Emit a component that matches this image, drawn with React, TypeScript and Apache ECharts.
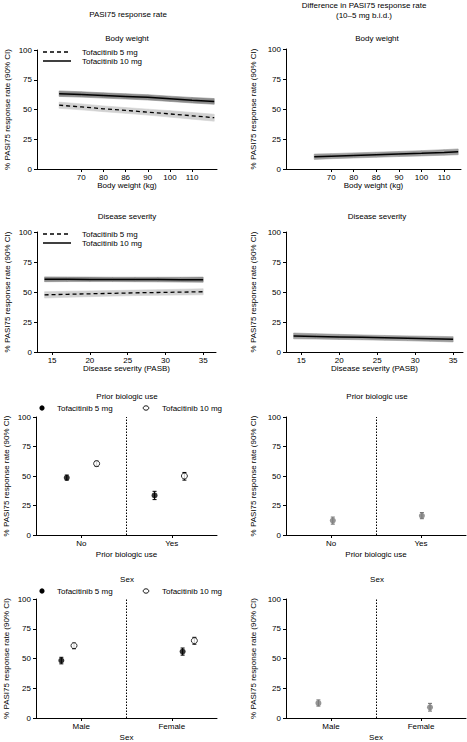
import React, { useEffect, useRef } from "react";
import * as echarts from "echarts";

// ---------- Data ----------
const bwX = [62, 70, 78, 86, 94, 102, 110, 118];
const bw10 = [63.3, 62.6, 61.8, 61.0, 60.2, 59.0, 57.8, 56.8];
const bw10Lo = [61.0, 60.4, 59.6, 58.8, 58.0, 56.8, 55.5, 54.4];
const bw10Hi = [65.6, 64.9, 64.0, 63.2, 62.4, 61.2, 60.1, 59.2];
const bw5 = [53.6, 52.2, 50.6, 49.2, 47.8, 46.3, 44.7, 43.1];
const bw5Lo = [51.0, 49.7, 48.2, 46.8, 45.3, 43.6, 41.9, 40.2];
const bw5Hi = [56.2, 54.7, 53.0, 51.6, 50.3, 49.0, 47.5, 46.0];

const bwDiffX = [64, 70, 78, 86, 94, 102, 110, 115];
const bwDiff = [10.2, 10.7, 11.3, 11.9, 12.5, 13.1, 13.8, 14.3];
const bwDiffLo = [8.0, 8.6, 9.2, 9.8, 10.4, 10.9, 11.5, 11.9];
const bwDiffHi = [12.4, 12.8, 13.4, 14.0, 14.6, 15.3, 16.1, 16.7];

const bwTickValues = [70, 78, 86, 94, 102, 110];
const bwTickLabels = ["70", "80", "86", "90", "100", "110"];

const dsX = [14, 17, 20, 23, 26, 29, 32, 35];
const ds10 = [60.6, 60.6, 60.5, 60.5, 60.4, 60.4, 60.3, 60.3];
const ds10Lo = [58.6, 58.7, 58.7, 58.7, 58.6, 58.5, 58.3, 58.2];
const ds10Hi = [62.6, 62.5, 62.4, 62.3, 62.3, 62.3, 62.3, 62.4];
const ds5 = [47.6, 48.1, 48.5, 48.9, 49.3, 49.6, 49.9, 50.2];
const ds5Lo = [45.0, 45.6, 46.1, 46.6, 47.0, 47.3, 47.5, 47.7];
const ds5Hi = [50.2, 50.6, 50.9, 51.2, 51.6, 51.9, 52.3, 52.7];
const dsDiff = [13.4, 13.0, 12.6, 12.2, 11.8, 11.4, 11.0, 10.6];
const dsDiffLo = [11.0, 10.8, 10.5, 10.2, 9.8, 9.4, 8.9, 8.4];
const dsDiffHi = [15.8, 15.2, 14.7, 14.2, 13.8, 13.4, 13.1, 12.8];
const dsTickValues = [15, 20, 25, 30, 35];

const pbCats = ["No", "Yes"];
const pb5 = [48.5, 33.5];
const pb5Lo = [46.5, 30.0];
const pb5Hi = [50.8, 37.0];
const pb10 = [60.5, 50.0];
const pb10Lo = [58.3, 46.5];
const pb10Hi = [62.5, 53.0];
const pbDiff = [12.2, 16.3];
const pbDiffLo = [9.2, 13.8];
const pbDiffHi = [15.2, 19.0];

const sexCats = ["Male", "Female"];
const sex5 = [48.3, 55.8];
const sex5Lo = [45.5, 52.8];
const sex5Hi = [51.0, 58.8];
const sex10 = [60.8, 65.0];
const sex10Lo = [58.2, 62.0];
const sex10Hi = [62.8, 67.8];
const sexDiff = [12.5, 9.0];
const sexDiffLo = [10.0, 5.8];
const sexDiffHi = [15.2, 12.3];

// ---------- Layout / style ----------
const FONT = "'Liberation Sans', Arial, Helvetica, sans-serif";
const FS = 8;
const Y_NAME = "% PASI75 response rate (90% CI)";
const pbDodge5 = [-0.16, -0.19];
const pbDodge10 = [0.17, 0.14];
const pbDodgeDiff = [0.02, 0.01];
const sexDodge5 = [-0.22, 0.12];
const sexDodge10 = [-0.08, 0.25];
const sexDodgeDiff = [-0.14, 0.1];

const pairs = (xs: number[], ys: number[]) => xs.map((x, i) => [x, ys[i]]);
const catPos = (dodge: number[]) => dodge.map((d, i) => i + 0.5 + d);

// Confidence band drawn as polygon segments between consecutive points
function band(g: number, xs: number[], lo: number[], hi: number[], color: string) {
  return {
    type: "custom", xAxisIndex: g, yAxisIndex: g, silent: true, z: 1,
    data: xs.map((x, i) => [x, lo[i], hi[i]]),
    encode: { x: 0, y: [1, 2] },
    renderItem: (p: any, api: any) => {
      const i = p.dataIndex;
      if (i === 0) return { type: "group", children: [] };
      const a1 = api.coord([xs[i - 1], hi[i - 1]]);
      const a2 = api.coord([xs[i], hi[i]]);
      const b2 = api.coord([xs[i], lo[i]]);
      const b1 = api.coord([xs[i - 1], lo[i - 1]]);
      return {
        type: "polygon",
        shape: { points: [a1, a2, b2, b1] },
        style: { fill: color, stroke: color, lineWidth: 0.6 },
      };
    },
  };
}

function line(name: string, g: number, xs: number[], ys: number[], dashed: boolean) {
  return {
    type: "line", name, xAxisIndex: g, yAxisIndex: g, data: pairs(xs, ys), symbol: "none",
    lineStyle: { color: "#000", width: dashed ? 1.3 : 1.5, type: dashed ? [4, 3] : "solid" },
    z: 3, silent: true,
  };
}

function errorBars(g: number, xs: number[], lo: number[], hi: number[], color: string) {
  return {
    type: "custom", xAxisIndex: g, yAxisIndex: g, silent: true, z: 2,
    data: xs.map((x, i) => [x, lo[i], hi[i]]),
    encode: { x: 0, y: [1, 2] },
    renderItem: (_p: any, api: any) => {
      const x = api.value(0);
      const a = api.coord([x, api.value(2)]);
      const b = api.coord([x, api.value(1)]);
      const w = 2;
      const style = { stroke: color, lineWidth: 1 };
      return {
        type: "group",
        children: [
          { type: "line", shape: { x1: a[0], y1: a[1], x2: b[0], y2: b[1] }, style },
          { type: "line", shape: { x1: a[0] - w, y1: a[1], x2: a[0] + w, y2: a[1] }, style },
          { type: "line", shape: { x1: b[0] - w, y1: b[1], x2: b[0] + w, y2: b[1] }, style },
        ],
      };
    },
  };
}

function points(name: string, g: number, xs: number[], ys: number[], kind: "filled" | "open" | "gray") {
  const itemStyle =
    kind === "filled" ? { color: "#000" } :
    kind === "open" ? { color: "#fff", borderColor: "#000", borderWidth: 1 } :
    { color: "#7a7a7a" };
  return {
    type: "scatter", name, xAxisIndex: g, yAxisIndex: g, data: pairs(xs, ys),
    symbol: "circle", symbolSize: 6, itemStyle, z: 4, silent: true,
  };
}

function divider(g: number) {
  return {
    type: "line", xAxisIndex: g, yAxisIndex: g, data: [], silent: true,
    markLine: {
      silent: true, symbol: "none", label: { show: false },
      lineStyle: { color: "#000", type: [1.5, 1.5], width: 1 },
      data: [{ xAxis: 1 }],
    },
  };
}

const axisCommon = {
  axisLine: { show: true, onZero: false, lineStyle: { color: "#000", width: 1 } },
  axisTick: { show: true, length: 3, lineStyle: { color: "#000", width: 1 } },
  splitLine: { show: false },
  nameTextStyle: { color: "#000", fontSize: FS, fontFamily: FONT },
};

function yAxis(g: number, right: boolean) {
  return {
    ...axisCommon, type: "value", gridIndex: g, min: 0, max: 100, interval: 25,
    name: Y_NAME, nameLocation: "middle", nameGap: right ? 29 : 26,
    axisLabel: { color: "#000", fontSize: FS, fontFamily: FONT, margin: 5 },
  };
}

function xValAxis(g: number, min: number, max: number, ticks: number[], labels: string[] | null, name: string, nameGap: number) {
  return {
    ...axisCommon, type: "value", gridIndex: g, min, max,
    name, nameLocation: "middle", nameGap,
    axisTick: { ...axisCommon.axisTick, customValues: ticks },
    axisLabel: {
      color: "#000", fontSize: FS, fontFamily: FONT, margin: 4, customValues: ticks,
      formatter: (v: number) => {
        if (!labels) return String(v);
        const i = ticks.findIndex((t) => Math.abs(t - v) < 1e-6);
        return i >= 0 ? labels[i] : "";
      },
    },
  };
}

function xCatAxis(g: number, cats: string[], name: string) {
  const ticks = cats.map((_c, i) => i + 0.5);
  return xValAxis(g, 0, cats.length, ticks, cats, name, 15);
}

function txt(text: string, x: number, y: number, align: "left" | "center" = "center") {
  return {
    type: "text", x, y, silent: true,
    style: { text, fill: "#000", font: `${FS}px ${FONT}`, textAlign: align, textVerticalAlign: "middle" },
  };
}

function lineLegend(y5: number, y10: number) {
  return [
    { type: "line", silent: true, shape: { x1: 43, y1: y5, x2: 71, y2: y5 }, style: { stroke: "#000", lineWidth: 1.3, lineDash: [4, 3] } },
    txt("Tofacitinib 5 mg", 82, y5, "left"),
    { type: "line", silent: true, shape: { x1: 43, y1: y10, x2: 71, y2: y10 }, style: { stroke: "#000", lineWidth: 1.5 } },
    txt("Tofacitinib 10 mg", 82, y10, "left"),
  ];
}

function dotLegend(y: number) {
  return [
    { type: "circle", silent: true, shape: { cx: 42, cy: y, r: 2.6 }, style: { fill: "#000" } },
    txt("Tofacitinib 5 mg", 57, y, "left"),
    { type: "ellipse", silent: true, shape: { cx: 146, cy: y, rx: 2.8, ry: 2.2 }, style: { fill: "#fff", stroke: "#000", lineWidth: 0.9 } },
    txt("Tofacitinib 10 mg", 162, y, "left"),
  ];
}

export default function App() {
  const ref = useRef<HTMLDivElement>(null);
  useEffect(() => {
    if (!ref.current) return;
    document.body.style.margin = "0";
    const chart = echarts.init(ref.current, undefined, { renderer: "svg" });

    const grid = [
      { left: 37, top: 50, width: 180, height: 119 },
      { left: 286, top: 49, width: 175, height: 120 },
      { left: 37, top: 232, width: 179, height: 120 },
      { left: 286, top: 232, width: 177, height: 120 },
      { left: 36, top: 417, width: 181, height: 118 },
      { left: 286, top: 417, width: 180, height: 118 },
      { left: 36, top: 599, width: 181, height: 120 },
      { left: 286, top: 599, width: 180, height: 120 },
    ];

    const xAxis = [
      xValAxis(0, 54, 119, bwTickValues, bwTickLabels, "Body weight (kg)", 12),
      xValAxis(1, 54, 116, bwTickValues, bwTickLabels, "Body weight (kg)", 12),
      xValAxis(2, 13, 36.7, dsTickValues, null, "Disease severity (PASB)", 12),
      xValAxis(3, 13, 36.3, dsTickValues, null, "Disease severity (PASB)", 12),
      xCatAxis(4, pbCats, "Prior biologic use"),
      xCatAxis(5, pbCats, "Prior biologic use"),
      xCatAxis(6, sexCats, "Sex"),
      xCatAxis(7, sexCats, "Sex"),
    ];
    const yAxes = [0, 1, 2, 3, 4, 5, 6, 7].map((g) => yAxis(g, g % 2 === 1));

    const series: any[] = [
      // Body weight
      band(0, bwX, bw10Lo, bw10Hi, "#8c8c8c"),
      band(0, bwX, bw5Lo, bw5Hi, "#d2d2d2"),
      line("Tofacitinib 10 mg", 0, bwX, bw10, false),
      line("Tofacitinib 5 mg", 0, bwX, bw5, true),
      band(1, bwDiffX, bwDiffLo, bwDiffHi, "#9a9a9a"),
      line("Difference", 1, bwDiffX, bwDiff, false),
      // Disease severity
      band(2, dsX, ds10Lo, ds10Hi, "#8c8c8c"),
      band(2, dsX, ds5Lo, ds5Hi, "#d2d2d2"),
      line("Tofacitinib 10 mg", 2, dsX, ds10, false),
      line("Tofacitinib 5 mg", 2, dsX, ds5, true),
      band(3, dsX, dsDiffLo, dsDiffHi, "#9a9a9a"),
      line("Difference", 3, dsX, dsDiff, false),
      // Prior biologic use
      divider(4),
      errorBars(4, catPos(pbDodge5), pb5Lo, pb5Hi, "#000"),
      errorBars(4, catPos(pbDodge10), pb10Lo, pb10Hi, "#000"),
      points("Tofacitinib 5 mg", 4, catPos(pbDodge5), pb5, "filled"),
      points("Tofacitinib 10 mg", 4, catPos(pbDodge10), pb10, "open"),
      divider(5),
      errorBars(5, catPos(pbDodgeDiff), pbDiffLo, pbDiffHi, "#6e6e6e"),
      points("Difference", 5, catPos(pbDodgeDiff), pbDiff, "gray"),
      // Sex
      divider(6),
      errorBars(6, catPos(sexDodge5), sex5Lo, sex5Hi, "#000"),
      errorBars(6, catPos(sexDodge10), sex10Lo, sex10Hi, "#000"),
      points("Tofacitinib 5 mg", 6, catPos(sexDodge5), sex5, "filled"),
      points("Tofacitinib 10 mg", 6, catPos(sexDodge10), sex10, "open"),
      divider(7),
      errorBars(7, catPos(sexDodgeDiff), sexDiffLo, sexDiffHi, "#6e6e6e"),
      points("Difference", 7, catPos(sexDodgeDiff), sexDiff, "gray"),
    ];

    const graphic = [
      txt("PASI75 response rate", 128, 14),
      txt("Difference in PASI75 response rate", 364, 5),
      txt("(10\u20135 mg b.i.d.)", 364, 15),
      txt("Body weight", 127, 38),
      txt("Body weight", 377, 38),
      txt("Disease severity", 127, 216),
      txt("Disease severity", 377, 216),
      txt("Prior biologic use", 127, 396),
      txt("Prior biologic use", 377, 396),
      txt("Sex", 127, 579),
      txt("Sex", 377, 579),
      ...lineLegend(52, 61),
      ...lineLegend(234, 243),
      ...dotLegend(408),
      ...dotLegend(591),
    ];

    chart.setOption({
      animation: false,
      backgroundColor: "#fff",
      textStyle: { fontFamily: FONT },
      grid,
      xAxis,
      yAxis: yAxes,
      series,
      graphic,
    });
    return () => chart.dispose();
  }, []);

  return (
    <div
      ref={ref}
      style={{ position: "fixed", left: 0, top: 0, width: 467, height: 742, background: "#fff" }}
    />
  );
}
